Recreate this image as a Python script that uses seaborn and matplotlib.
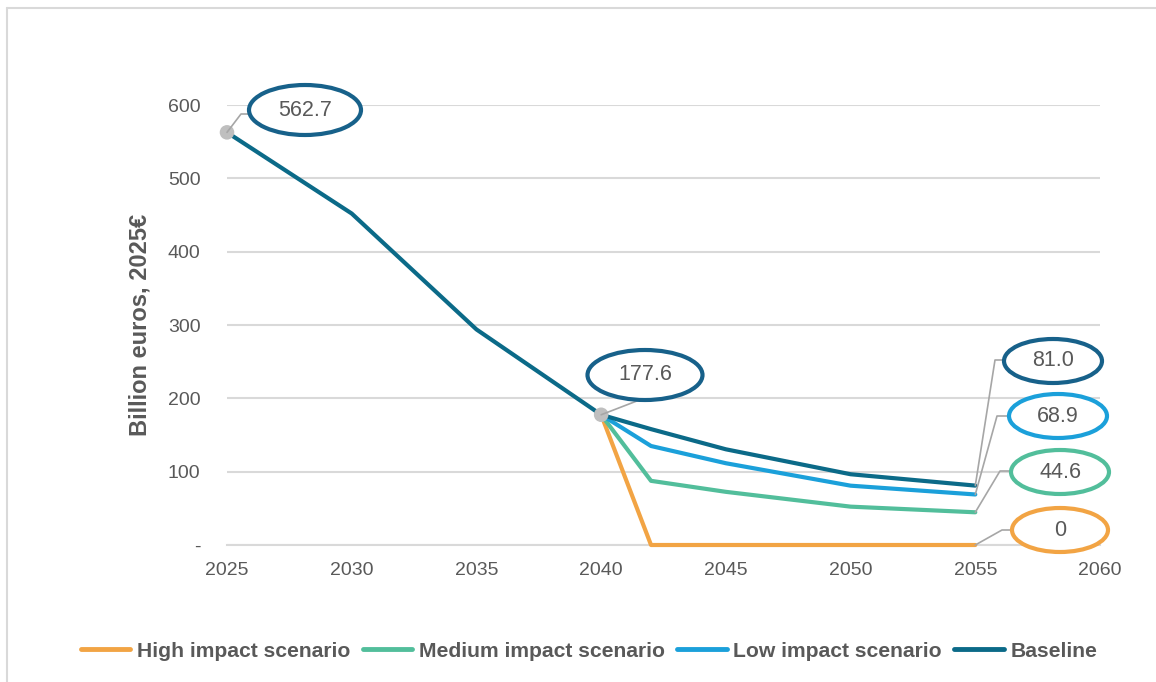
import matplotlib
matplotlib.use("Agg")
import matplotlib.pyplot as plt
from matplotlib.patches import Ellipse
from matplotlib.lines import Line2D
import pandas as pd
import seaborn as sns

# Scenario values, billion euros (2025 prices)
years_hist = [2025, 2030, 2035, 2040]
baseline_hist = [562.7, 452.0, 294.0, 177.6]
years_proj = [2040, 2042, 2045, 2050, 2055]
baseline_proj = [177.6, 158.0, 130.5, 96.5, 81.0]
low_proj = [177.6, 135.0, 111.5, 80.9, 68.9]
medium_proj = [177.6, 87.5, 72.5, 52.3, 44.6]
high_proj = [177.6, 0.0, 0.0, 0.0, 0.0]

scenarios = ["High impact scenario", "Medium impact scenario",
             "Low impact scenario", "Baseline"]
colors = ["#F2A444", "#52BE9B", "#1BA0DA", "#0B6A88"]
y_ticks = [0, 100, 200, 300, 400, 500, 600]
y_tick_labels = ["-", "100", "200", "300", "400", "500", "600"]
x_ticks = [2025, 2030, 2035, 2040, 2045, 2050, 2055, 2060]

rows = []
for name, vals in zip(scenarios, [high_proj, medium_proj, low_proj, baseline_proj]):
    yrs = years_proj
    if name == "Baseline":
        yrs = years_hist[:-1] + years_proj
        vals = baseline_hist[:-1] + vals
    for y, v in zip(yrs, vals):
        rows.append({"year": y, "value": v, "scenario": name})
df = pd.DataFrame(rows)

sns.set_theme(style="white")
plt.rcParams["font.family"] = ["Liberation Sans", "DejaVu Sans"]

text_grey = "#595959"
grid_grey = "#D9D9D9"

fig = plt.figure(figsize=(11.56, 6.82), dpi=100)
ax = fig.add_axes([227 / 1156, 137 / 682, 873 / 1156, 440 / 682])

sns.lineplot(data=df, x="year", y="value", hue="scenario",
             hue_order=scenarios, palette=dict(zip(scenarios, colors)),
             linewidth=3.0, legend=False, ax=ax, zorder=3,
             estimator=None, sort=True)
for ln in ax.get_lines():
    ln.set_clip_on(False)

ax.set_xlim(2025, 2060)
ax.set_ylim(0, 600)
ax.set_yticks(y_ticks)
ax.set_yticklabels(y_tick_labels)
ax.set_xticks(x_ticks)
ax.set_xlabel("")
ax.set_ylabel("Billion euros, 2025€", fontsize=17, fontweight="bold",
              color=text_grey, labelpad=12)
for s in ["top", "right", "left"]:
    ax.spines[s].set_visible(False)
ax.spines["bottom"].set_color(grid_grey)
ax.spines["bottom"].set_linewidth(1.5)
ax.yaxis.grid(True, color=grid_grey, linewidth=1.5)
ax.set_axisbelow(True)
ax.tick_params(axis="y", length=0, pad=19, labelsize=14, labelcolor=text_grey)
ax.tick_params(axis="x", direction="in", length=6, width=1.2, color="#BFBFBF",
               pad=12, labelsize=14, labelcolor=text_grey)

# Marker dots at the labelled points
ax.scatter([2025, 2040], [562.7, 177.6], s=110, color="#BFBFBF", zorder=4,
           clip_on=False, edgecolor="none")

# Callout ellipses with leader lines (points in data coordinates)
def callout(px, py, cx, cy, w, h, label, edge, elbow):
    xs = [px] + [e[0] for e in elbow]
    ys = [py] + [e[1] for e in elbow]
    ax.add_line(Line2D(xs, ys, color="#A6A6A6", linewidth=1.2,
                       zorder=5, clip_on=False))
    ax.add_patch(Ellipse((cx, cy), w, h, facecolor="white", edgecolor=edge,
                         linewidth=3.0, zorder=6, clip_on=False))
    ax.text(cx, cy, label, ha="center", va="center", fontsize=15.5,
            color=text_grey, zorder=7)

px_per_year = 873 / 35
px_per_unit = 440 / 600


def dx(px):
    return px / px_per_year


def dy(px):
    return px / px_per_unit


def xd(px):
    return 2025 + (px - 227) / px_per_year


def yd(py):
    return (545 - py) / px_per_unit


callout(2025, 562.7, xd(305), yd(110), dx(112), dy(50), "562.7", "#17618A",
        [(xd(241), yd(114)), (xd(250), yd(114))])
callout(2040, 177.6, xd(645), yd(375), dx(115), dy(50), "177.6", "#17618A",
        [(xd(642), yd(399))])
callout(2055, 81.0, xd(1053), yd(361), dx(98), dy(44), "81.0", "#17618A",
        [(xd(995), yd(360)), (xd(1006), yd(360))])
callout(2055, 68.9, xd(1058), yd(416), dx(98), dy(44), "68.9", colors[2],
        [(xd(997), yd(416)), (xd(1010), yd(416))])
callout(2055, 44.6, xd(1060), yd(472), dx(98), dy(44), "44.6", colors[1],
        [(xd(1000), yd(471)), (xd(1012), yd(471))])
callout(2055, 0.0, xd(1060), yd(530), dx(96), dy(44), "0", colors[0],
        [(xd(1002), yd(530)), (xd(1014), yd(530))])

# Legend along the bottom
handles = [Line2D([0], [0], color=c, linewidth=3.5, solid_capstyle="round")
           for c in colors]
leg = fig.legend(handles, scenarios, loc="center", bbox_to_anchor=(0.5095, 0.045),
                 ncol=4, frameon=False, handlelength=2.35, handletextpad=0.3,
                 columnspacing=0.6, prop={"size": 15.2, "weight": "bold"})
for t in leg.get_texts():
    t.set_color(text_grey)

# Thin frame around the chart area
fig.add_artist(Line2D([7 / 1156, 7 / 1156], [0, 1 - 8 / 682],
                      transform=fig.transFigure, color="#D9D9D9", linewidth=1.5))
fig.add_artist(Line2D([7 / 1156, 1], [1 - 8 / 682, 1 - 8 / 682],
                      transform=fig.transFigure, color="#D9D9D9", linewidth=1.5))

fig.savefig("out.png", dpi=100, facecolor="white")
